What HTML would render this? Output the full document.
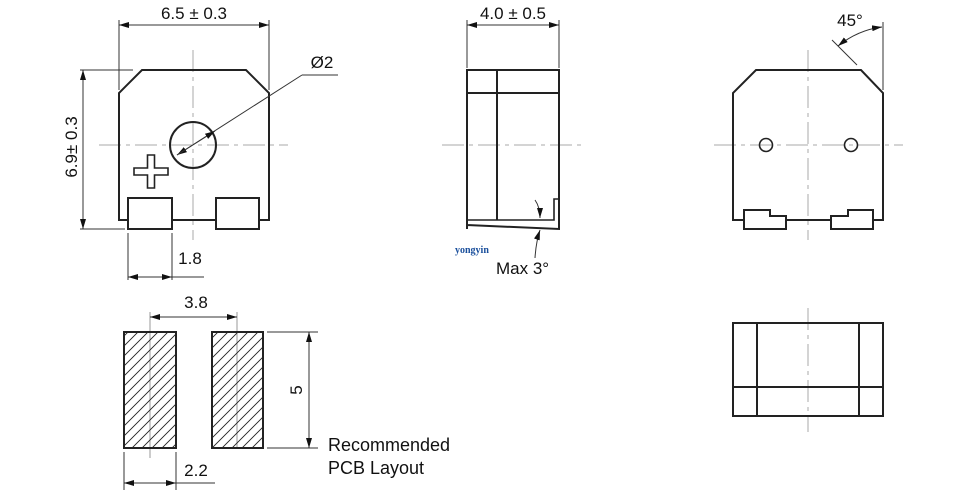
<!DOCTYPE html>
<html><head><style>
html,body{margin:0;padding:0;background:#fff;}
svg{display:block;}
text{font-family:"Liberation Sans",Arial,sans-serif;fill:#111;}
</style></head><body>
<svg width="969" height="499" viewBox="0 0 969 499" xmlns="http://www.w3.org/2000/svg">
<defs>
<marker id="a" markerWidth="10" markerHeight="6" refX="10" refY="3" orient="auto-start-reverse" markerUnits="userSpaceOnUse"><path d="M0,0 L10,3 L0,6 z" fill="#111"/></marker>
<pattern id="h" width="10" height="10" patternUnits="userSpaceOnUse"><path d="M-1,11 L11,-1 M-1,1 L1,-1 M9,11 L11,9" stroke="#222" stroke-width="0.9"/></pattern>
</defs>
<g stroke="#aaa" stroke-width="1" fill="none" stroke-dasharray="22,5,4,5">
<line x1="193" y1="50" x2="193" y2="240"/><line x1="99" y1="145" x2="288" y2="145"/>
<line x1="442" y1="145" x2="585" y2="145"/>
<line x1="808" y1="50" x2="808" y2="240"/><line x1="714" y1="145" x2="903" y2="145"/>
<line x1="808" y1="308" x2="808" y2="432"/>
</g>
<g stroke="#999" stroke-width="1">
<line x1="150" y1="312" x2="150" y2="458"/><line x1="237" y1="312" x2="237" y2="448"/>
</g>
<g stroke="#222" stroke-width="2" fill="none">
<path d="M128,220 L119,220 L119,93 L142,70 L246,70 L269,93 L269,220 L259,220"/>
<line x1="172" y1="220" x2="216" y2="220"/>
<rect x="128" y="198" width="44" height="31" fill="#fff"/>
<rect x="216" y="198" width="43" height="31" fill="#fff"/>
<circle cx="193" cy="145" r="23"/>
<path d="M147.5,155 h7 v13 h13.5 v7 h-13.5 v13 h-7 v-13 h-13.5 v-7 h13.5 z" stroke-width="1.6"/>
<path d="M467,229 L467,70 L559,70 L559,229 L467,225"/>
<line x1="467" y1="93" x2="559" y2="93"/>
<line x1="497" y1="70" x2="497" y2="220"/>
<path d="M467,220 L554,220 L554,199 L559,199" stroke-width="1.6"/>
<path d="M744,220 L733,220 L733,93 L756,70 L861,70 L883,93 L883,220 L873,220"/>
<line x1="786" y1="220" x2="831" y2="220"/>
<path d="M744,229 L744,210 L770,210 L770,216 L786,216 L786,229 Z" fill="#fff"/>
<path d="M831,229 L831,216 L848,216 L848,210 L873,210 L873,229 Z" fill="#fff"/>
<circle cx="766" cy="145" r="6.5" stroke-width="1.6"/>
<circle cx="851" cy="145" r="6.5" stroke-width="1.6"/>
<rect x="733" y="323" width="150" height="93"/>
<line x1="757" y1="323" x2="757" y2="416"/><line x1="859" y1="323" x2="859" y2="416"/>
<line x1="733" y1="387" x2="883" y2="387"/>
<rect x="124" y="332" width="52" height="116" fill="url(#h)"/>
<rect x="212" y="332" width="51" height="116" fill="url(#h)"/>
</g>
<g stroke="#333" stroke-width="1" fill="none">
<line x1="119" y1="20" x2="119" y2="90"/><line x1="269" y1="20" x2="269" y2="90"/>
<line x1="119" y1="25" x2="269" y2="25" marker-start="url(#a)" marker-end="url(#a)"/>
<line x1="80" y1="70" x2="133" y2="70"/><line x1="80" y1="229" x2="125" y2="229"/>
<line x1="83" y1="70" x2="83" y2="229" marker-start="url(#a)" marker-end="url(#a)"/>
<line x1="177" y1="155" x2="302" y2="75" marker-start="url(#a)"/>
<line x1="215" y1="131" x2="177" y2="155" marker-start="url(#a)"/>
<line x1="302" y1="75" x2="338" y2="75"/>
<line x1="128" y1="233" x2="128" y2="280"/><line x1="172" y1="233" x2="172" y2="280"/>
<line x1="128" y1="277" x2="172" y2="277" marker-start="url(#a)" marker-end="url(#a)"/>
<line x1="172" y1="277" x2="204" y2="277"/>
<line x1="467" y1="20" x2="467" y2="68"/><line x1="559" y1="20" x2="559" y2="68"/>
<line x1="467" y1="25" x2="559" y2="25" marker-start="url(#a)" marker-end="url(#a)"/>
<path d="M535,200 Q540,207 540,218" marker-end="url(#a)"/>
<path d="M535,258 Q536,242 540,230" marker-end="url(#a)"/>
<line x1="832" y1="40" x2="857" y2="65"/>
<line x1="883" y1="22" x2="883" y2="90"/>
<path d="M838,46 Q858,30 882,27" marker-start="url(#a)" marker-end="url(#a)"/>
<line x1="150" y1="317" x2="237" y2="317" marker-start="url(#a)" marker-end="url(#a)"/>
<line x1="267" y1="332" x2="318" y2="332"/><line x1="267" y1="448" x2="318" y2="448"/>
<line x1="309" y1="332" x2="309" y2="448" marker-start="url(#a)" marker-end="url(#a)"/>
<line x1="124" y1="452" x2="124" y2="490"/><line x1="176" y1="452" x2="176" y2="490"/>
<line x1="124" y1="483" x2="176" y2="483" marker-start="url(#a)" marker-end="url(#a)"/>
<line x1="176" y1="483" x2="215" y2="483"/>
</g>
<g font-size="17">
<text x="194" y="19" text-anchor="middle">6.5 ± 0.3</text>
<text x="322" y="68" text-anchor="middle">Ø2</text>
<text transform="translate(77,147) rotate(-90)" text-anchor="middle">6.9± 0.3</text>
<text x="190" y="264" text-anchor="middle">1.8</text>
<text x="513" y="19" text-anchor="middle">4.0 ± 0.5</text>
<text x="496" y="274">Max 3°</text>
<text x="850" y="26" text-anchor="middle">45°</text>
<text x="196" y="308" text-anchor="middle">3.8</text>
<text transform="translate(302,390) rotate(-90)" text-anchor="middle">5</text>
<text x="196" y="476" text-anchor="middle">2.2</text>
<text x="328" y="451" font-size="18">Recommended</text>
<text x="328" y="474" font-size="18">PCB Layout</text>
</g>
<text x="455" y="253" font-size="10" font-weight="bold" style="fill:#1a4f9c;font-family:'Liberation Serif',serif">yongyin</text>
</svg>
</body></html>
